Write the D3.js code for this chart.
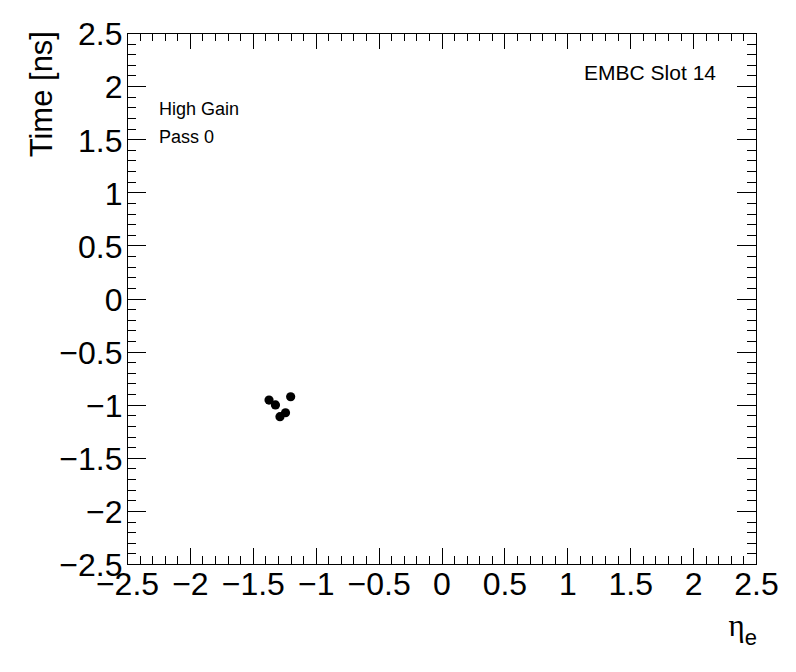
<!DOCTYPE html>
<html>
<head>
<meta charset="utf-8">
<script src="https://cdn.jsdelivr.net/npm/d3@7"></script>
<style>
  body { margin: 0; background: #fff; }
  svg { display: block; }
  text { font-family: "Liberation Sans", Arial, Helvetica, sans-serif; fill: #000; }
</style>
</head>
<body>
<svg id="chart" width="796" height="672"></svg>
<script>
// ---- data ----
const etaValues  = [-1.371, -1.320, -1.199, -1.284, -1.240];
const timeValues = [-0.956, -1.002, -0.925, -1.113, -1.076];
const xDomain = [-2.5, 2.5];
const yDomain = [-2.5, 2.5];
const majorTicks = [-2.5, -2, -1.5, -1, -0.5, 0, 0.5, 1, 1.5, 2, 2.5];
const minorTicks = d3.range(-25, 26).map(v => v / 10);
const xTitle = "η";
const xTitleSub = "e";
const yTitle = "Time [ns]";
const labelTopRight = "EMBC Slot 14";
const labelLines = ["High Gain", "Pass 0"];

// ---- layout ----
const frame = { left: 127, top: 33, right: 756, bottom: 564 };
const W = frame.right - frame.left, H = frame.bottom - frame.top;
const svg = d3.select("#chart");
const x = d3.scaleLinear().domain(xDomain).range([frame.left, frame.right]);
const y = d3.scaleLinear().domain(yDomain).range([frame.bottom, frame.top]);
const fmt = d3.format("~g");

const xMaj = 0.03 * H, xMin = xMaj / 2;
const yMaj = 0.03 * W, yMin = yMaj / 2;

function styleAxis(g) {
  g.select(".domain").remove();
  g.selectAll("line").attr("stroke", "#000").attr("stroke-width", 1).attr("shape-rendering", "crispEdges");
}

// bottom axis
const gB = svg.append("g").attr("transform", `translate(0,${frame.bottom})`)
  .call(d3.axisBottom(x).tickValues(majorTicks).tickFormat(fmt).tickSizeInner(-xMaj).tickSizeOuter(0).tickPadding(8));
styleAxis(gB);
gB.selectAll("text").attr("font-size", 32).attr("font-family", "Liberation Sans, Arial, sans-serif").attr("fill", "#000");
svg.append("g").attr("transform", `translate(0,${frame.bottom})`)
  .call(d3.axisBottom(x).tickValues(minorTicks).tickFormat("").tickSizeInner(-xMin).tickSizeOuter(0)).call(styleAxis);
// top axis
svg.append("g").attr("transform", `translate(0,${frame.top})`)
  .call(d3.axisTop(x).tickValues(majorTicks).tickFormat("").tickSizeInner(-xMaj).tickSizeOuter(0)).call(styleAxis);
svg.append("g").attr("transform", `translate(0,${frame.top})`)
  .call(d3.axisTop(x).tickValues(minorTicks).tickFormat("").tickSizeInner(-xMin).tickSizeOuter(0)).call(styleAxis);
// left axis
const gL = svg.append("g").attr("transform", `translate(${frame.left},0)`)
  .call(d3.axisLeft(y).tickValues(majorTicks).tickFormat(fmt).tickSizeInner(-yMaj).tickSizeOuter(0).tickPadding(4.5));
styleAxis(gL);
gL.selectAll("text").attr("font-size", 32).attr("dy", "0.37em").attr("font-family", "Liberation Sans, Arial, sans-serif").attr("fill", "#000");
svg.append("g").attr("transform", `translate(${frame.left},0)`)
  .call(d3.axisLeft(y).tickValues(minorTicks).tickFormat("").tickSizeInner(-yMin).tickSizeOuter(0)).call(styleAxis);
// right axis
svg.append("g").attr("transform", `translate(${frame.right},0)`)
  .call(d3.axisRight(y).tickValues(majorTicks).tickFormat("").tickSizeInner(-yMaj).tickSizeOuter(0)).call(styleAxis);
svg.append("g").attr("transform", `translate(${frame.right},0)`)
  .call(d3.axisRight(y).tickValues(minorTicks).tickFormat("").tickSizeInner(-yMin).tickSizeOuter(0)).call(styleAxis);

// frame
svg.append("rect").attr("x", frame.left).attr("y", frame.top).attr("width", W).attr("height", H)
  .attr("fill", "none").attr("stroke", "#000").attr("stroke-width", 1).attr("shape-rendering", "crispEdges");

// points
svg.append("g").selectAll("circle").data(etaValues.map((v, i) => [v, timeValues[i]])).join("circle")
  .attr("cx", d => x(d[0])).attr("cy", d => y(d[1])).attr("r", 4.6).attr("fill", "#000");

// axis titles
const xt = svg.append("text").attr("x", 757).attr("y", 636).attr("text-anchor", "end");
xt.append("tspan").text(xTitle).attr("font-family", "Liberation Serif, Times New Roman, serif").attr("font-size", 31);
xt.append("tspan").text(xTitleSub).attr("font-size", 22).attr("dy", 9);

svg.append("text").attr("transform", `translate(52,${frame.top - 2}) rotate(-90)`)
  .attr("text-anchor", "end").attr("font-size", 31).text(yTitle);

// labels
svg.append("text").attr("x", 716).attr("y", 80).attr("text-anchor", "end").attr("font-size", 21).text(labelTopRight);
svg.selectAll("text.lab").data(labelLines).join("text").attr("class", "lab")
  .attr("x", 159).attr("y", (d, i) => 115 + i * 28).attr("font-size", 18).text(d => d);
</script>
</body>
</html>
